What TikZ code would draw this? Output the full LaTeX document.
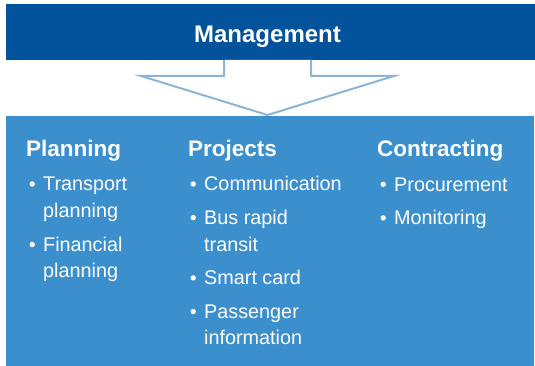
\documentclass[tikz,border=0pt]{standalone}
\usepackage{fontspec}
\setmainfont{Liberation Sans}
\definecolor{topblue}{RGB}{3,82,156}
\definecolor{panelblue}{RGB}{59,143,205}
\definecolor{arrowline}{RGB}{141,180,216}
\newcommand{\bul}{\makebox[14.5pt][l]{\hspace*{0.8pt}\tikz[baseline=0pt]{\fill[white] (2.7pt,6.7pt) circle (2.7pt);}}}
\newcommand{\ind}{\hspace*{14.5pt}}
\tikzset{
  head/.style={anchor=base west, inner sep=0pt, text=white, font=\bfseries\fontsize{22.5pt}{27pt}\selectfont},
  item/.style={anchor=base west, inner sep=0pt, text=white, align=left, font=\fontsize{19.8pt}{26.7pt}\selectfont},
}
\begin{document}
\begin{tikzpicture}[x=1pt,y=-1pt]
\useasboundingbox (0,0) rectangle (535,366);
% top bar
\node[fill=topblue, minimum width=529pt, minimum height=56pt, inner sep=0pt, anchor=north west] (mgmt) at (6,4) {};
\node[anchor=base, inner sep=0pt, text=white, font=\bfseries\fontsize{24pt}{28pt}\selectfont] (mtext) at (267.5,42.3) {Management};
% bottom panel
\node[fill=panelblue, minimum width=528pt, minimum height=250pt, inner sep=0pt, anchor=north west] (panel) at (6,116) {};
% arrow
\draw[arrowline, line width=2pt, fill=white, line join=miter]
  (224,60) -- (224,76) -- (141,76) -- (267.5,115) -- (394,76) -- (311,76) -- (311,60);
% headings
\node[head] (plan) at (26,156.7) {Planning};
\node[head] (proj) at (188,156.7) {Projects};
\node[head] (cont) at (377,156.7) {Contracting};
% Planning items (two-line nodes are anchored at their last baseline)
\node[item] (p1) at (28.5,217.4) {\bul Transport\\\ind planning};
\node[item] (p2) at (28.5,277.9) {\bul Financial\\\ind planning};
% Projects items
\node[item] (j1) at (189.5,190.7) {\bul Communication};
\node[item] (j2) at (189.5,251.0) {\bul Bus rapid\\\ind transit};
\node[item] (j3) at (189.5,284.6) {\bul Smart card};
\node[item] (j4) at (189.5,344.9) {\bul Passenger\\\ind information};
% Contracting items
\node[item] (c1) at (379.5,191) {\bul Procurement};
\node[item] (c2) at (379.5,224.6) {\bul Monitoring};
\end{tikzpicture}
\end{document}
